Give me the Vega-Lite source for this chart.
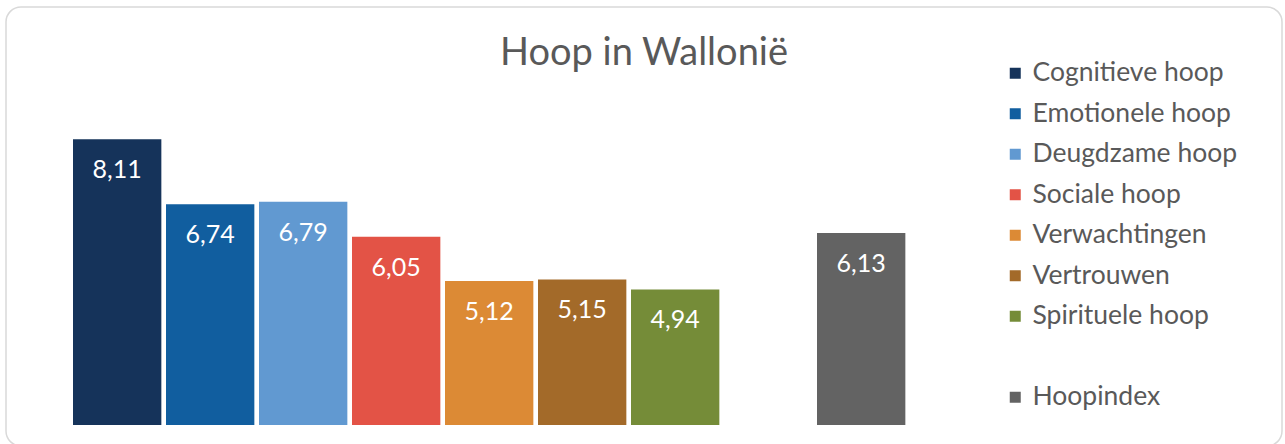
{
  "$schema": "https://vega.github.io/schema/vega-lite/v6.json",
  "width": 1276,
  "height": 439,
  "autosize": {"type": "none"},
  "padding": {"left": 6, "top": 7, "right": 3, "bottom": 0},
  "background": "white",
  "config": {
    "locale": {"number": {"decimal": ",", "thousands": ".", "grouping": [3], "currency": ["", " €"]}},
    "view": {"stroke": "#D9D9D9", "strokeWidth": 1.5, "cornerRadius": 15},
    "font": "Lato"
  },
  "title": {
    "text": "Hoop in Wallonië",
    "fontSize": 38,
    "font": "Lato",
    "fontWeight": "normal",
    "color": "#595959",
    "anchor": "middle",
    "frame": "group",
    "baseline": "alphabetic",
    "offset": -96
  },
  "data": {
    "values": [
      {"cat": "Cognitieve hoop", "v": 8.11},
      {"cat": "Emotionele hoop", "v": 6.74},
      {"cat": "Deugdzame hoop", "v": 6.79},
      {"cat": "Sociale hoop", "v": 6.05},
      {"cat": "Verwachtingen", "v": 5.12},
      {"cat": "Vertrouwen", "v": 5.15},
      {"cat": "Spirituele hoop", "v": 4.94},
      {"cat": " ", "v": null},
      {"cat": "Hoopindex", "v": 6.13}
    ]
  },
  "encoding": {
    "x": {
      "field": "cat",
      "type": "nominal",
      "axis": null,
      "scale": {
        "domain": ["Cognitieve hoop", "Emotionele hoop", "Deugdzame hoop", "Sociale hoop", "Verwachtingen", "Vertrouwen", "Spirituele hoop", " ", "Hoopindex"],
        "paddingInner": 0.05,
        "paddingOuter": 0,
        "range": [67, 899.35]
      }
    }
  },
  "layer": [
    {
      "mark": {"type": "bar"},
      "encoding": {
        "y": {"field": "v", "type": "quantitative", "axis": null, "scale": {"domain": [1.637, 10.899], "zero": false, "nice": false}},
        "y2": {"datum": 2.08},
        "color": {
          "field": "cat",
          "type": "nominal",
          "scale": {
            "domain": ["Cognitieve hoop", "Emotionele hoop", "Deugdzame hoop", "Sociale hoop", "Verwachtingen", "Vertrouwen", "Spirituele hoop", " ", "Hoopindex"],
            "range": ["#15335A", "#115E9F", "#6199D1", "#E35346", "#DC8A35", "#A36A29", "#758C38", "transparent", "#636363"]
          },
          "legend": {
            "title": null,
            "orient": "none",
            "legendX": 996,
            "legendY": 53,
            "padding": 0,
            "symbolType": "square",
            "symbolSize": 121,
            "symbolStrokeWidth": 0,
            "labelFontSize": 26.5,
            "labelFont": "Lato",
            "labelColor": "#595959",
            "labelOffset": 4,
            "rowPadding": 13.5,
            "labelLimit": 300
          }
        }
      }
    },
    {
      "mark": {"type": "text", "baseline": "middle", "align": "center", "dy": 31, "color": "white", "fontSize": 25, "font": "Lato"},
      "encoding": {
        "y": {"field": "v", "type": "quantitative"},
        "text": {"field": "v", "type": "quantitative", "format": ".2f"}
      }
    }
  ]
}
